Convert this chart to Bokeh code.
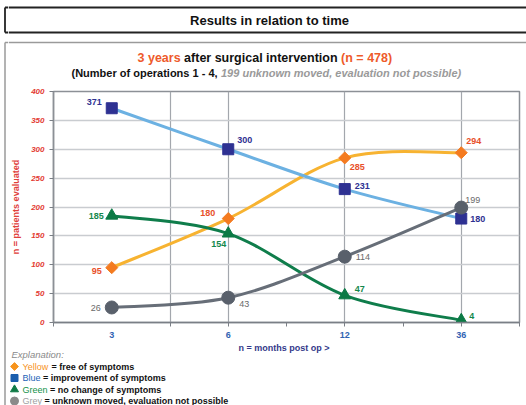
import numpy as np
from bokeh.plotting import figure
from bokeh.layouts import row, column
from bokeh.models import Range1d, FixedTicker
from bokeh.core.properties import value
from bokeh.embed import file_html
from bokeh.resources import INLINE

# ---- data ----
months = ["3", "6", "12", "36"]
yellow_free = [95, 180, 285, 294]
blue_improved = [371, 300, 231, 180]
green_nochange = [185, 154, 47, 4]
grey_unknown = [26, 43, 114, 199]
y_ticks = [0, 50, 100, 150, 200, 250, 300, 350, 400]

FONT = "Liberation Sans"
PAGE_W, PAGE_H = 526, 405
STRIP_W = 8
MAIN_W = PAGE_W - STRIP_W
HEAD_H, CHART_H = 83, 257
LEG_H = PAGE_H - HEAD_H - CHART_H
DARK, GREYBOX = "#222222", "#9a9a9a"


def no_align(f):
    try:
        f.frame_align = False
    except Exception:
        pass
    return f


def canvas_fig(x0, x1, y0, y1):
    """Figure whose frame fills the whole canvas, with data units = page pixels."""
    f = figure(width=int(x1 - x0), height=int(y1 - y0), output_backend="svg",
               toolbar_location=None, x_range=Range1d(x0, x1), y_range=Range1d(y1, y0),
               x_axis_type=None, y_axis_type=None, min_border=0)
    f.outline_line_color = None
    f.background_fill_color = "white"
    f.border_fill_color = "white"
    return no_align(f)


def txt(f, x, y, s, size, color, style="bold", align="left", font=FONT):
    f.text(x=[x], y=[y], text=[s], text_font=value(font), text_font_size=value(size),
           text_font_style=style, text_color=color, text_align=align,
           text_baseline="middle")


# ---------- left strip (left edges of the two frames) ----------
strip = canvas_fig(0, STRIP_W, 0, PAGE_H)
strip.segment(x0=[4.5, 4.5, 4.5, 4.5, 4.5], y0=[7, 32, 7, 42, 42],
              x1=[8, 8, 4.5, 8, 4.5], y1=[7, 32, 32, 42, PAGE_H],
              line_color=[DARK, DARK, DARK, GREYBOX, GREYBOX],
              line_width=[1.8, 1.8, 1.8, 1.5, 1.5])

# ---------- header ----------
head = canvas_fig(STRIP_W, PAGE_W, 0, HEAD_H)
head.segment(x0=[STRIP_W] * 3, y0=[7, 32, 42], x1=[PAGE_W] * 3, y1=[7, 32, 42],
             line_color=[DARK, DARK, GREYBOX], line_width=[1.8, 1.8, 1.5])
txt(head, 269, 19.5, "Results in relation to time", "13px", "#111111", align="center")
txt(head, 137, 57, "3 years", "12.5px", "#ee5a2b")
txt(head, 183.6, 57, "after surgical intervention", "12.5px", "#111111")
txt(head, 340.6, 57, "(n = 478)", "12.5px", "#ee5a2b")
txt(head, 71, 72, "(Number of operations 1 - 4,", "11px", "#111111")
txt(head, 220.5, 72, "199 unknown moved, evaluation not possible)", "11px", "#9a9a9a",
    style="bold italic")

# ---------- chart ----------
p = figure(width=MAIN_W, height=CHART_H, output_backend="svg", toolbar_location=None,
           x_range=Range1d(-0.5, 3.5), y_range=Range1d(0, 400),
           min_border_left=41, min_border_right=7, min_border_top=8,
           min_border_bottom=18)
no_align(p)
p.background_fill_color = "white"
p.border_fill_color = "white"
p.outline_line_color = "#8c9096"
p.outline_line_width = 1.5

p.ygrid.ticker = FixedTicker(ticks=y_ticks)
p.ygrid.grid_line_color = "#c9ccd0"
p.ygrid.grid_line_width = 1.5
p.xgrid.ticker = FixedTicker(ticks=[0.5, 1, 2, 3])
p.xgrid.grid_line_color = "#a3a7ad"
p.xgrid.grid_line_width = 1.2

xa = p.xaxis[0]
xa.ticker = FixedTicker(ticks=list(range(len(months))),
                        minor_ticks=[-0.5, 0.5, 1, 1.5, 2, 2.5, 3, 3.5])
xa.major_label_overrides = {i: m for i, m in enumerate(months)}
xa.major_tick_out = 0
xa.major_tick_in = 0
xa.minor_tick_out = 4
xa.minor_tick_in = 0
xa.minor_tick_line_color = "#7a7f86"
xa.axis_line_color = "#7a7f86"
xa.axis_line_width = 1.5
xa.major_label_text_font = FONT
xa.major_label_text_font_size = "9px"
xa.major_label_text_font_style = "bold"
xa.major_label_text_color = "#2f63b2"
xa.major_label_standoff = 5

ya = p.yaxis[0]
ya.ticker = FixedTicker(ticks=y_ticks)
ya.major_tick_out = 4
ya.major_tick_in = 0
ya.minor_tick_out = 0
ya.minor_tick_in = 0
ya.major_tick_line_color = "#7a7f86"
ya.axis_line_color = "#8c9096"
ya.axis_line_width = 1.5
ya.major_label_text_font = FONT
ya.major_label_text_font_size = "8px"
ya.major_label_text_font_style = "bold italic"
ya.major_label_text_color = "#e33b33"
ya.major_label_standoff = 5
ya.axis_label = "n = patients evaluated"
ya.axis_label_text_font = FONT
ya.axis_label_text_font_size = "9px"
ya.axis_label_text_font_style = "bold"
ya.axis_label_text_color = "#e0403a"
ya.axis_label_standoff = 7


def smooth_segments(vals):
    """Cubic bezier control points (Catmull-Rom style) for a smoothed line."""
    x = np.arange(len(vals), dtype=float)
    y = np.asarray(vals, dtype=float)
    xp = np.concatenate([[x[0]], x, [x[-1]]])
    yp = np.concatenate([[y[0]], y, [y[-1]]])
    seg = dict(x0=[], y0=[], x1=[], y1=[], cx0=[], cy0=[], cx1=[], cy1=[])
    for i in range(len(vals) - 1):
        seg["x0"].append(xp[i + 1]); seg["y0"].append(yp[i + 1])
        seg["x1"].append(xp[i + 2]); seg["y1"].append(yp[i + 2])
        seg["cx0"].append(xp[i + 1] + (xp[i + 2] - xp[i]) / 6)
        seg["cy0"].append(yp[i + 1] + (yp[i + 2] - yp[i]) / 6)
        seg["cx1"].append(xp[i + 2] - (xp[i + 3] - xp[i + 1]) / 6)
        seg["cy1"].append(yp[i + 2] - (yp[i + 3] - yp[i + 1]) / 6)
    return seg


xs = list(range(len(months)))
series = [
    (yellow_free, "#f7b331", "square", "#f47b20", 8.5, np.pi / 4, "#e8502a", "bold",
     [-10, -13, 5, 5], [3, -6, 9, -12], ["right", "right", "left", "left"]),
    (blue_improved, "#6cb1e2", "square", "#2e3192", 11, 0, "#2e3192", "bold",
     [-10, 9, 10, 9], [-6, -9, -3, 0], ["right", "left", "left", "left"]),
    (green_nochange, "#0f7d4b", "triangle", "#0b7a45", 12, 0, "#13874c", "bold",
     [-8, -2, 10, 8], [0, 10, -6, -4], ["right", "right", "left", "left"]),
    (grey_unknown, "#676e78", "circle", "#59606b", 13, 0, "#6a6a6a", "normal",
     [-11, 11, 11, 4], [1, 6, 0, -8], ["right", "left", "left", "left"]),
]
for vals, lc, mk, mc, ms, ang, tc, tw, dx, dy, al in series:
    p.bezier(line_color=lc, line_width=3, **smooth_segments(vals))
    p.scatter(xs, vals, marker=mk, size=ms, angle=ang, fill_color=mc, line_color=mc)
    p.text(x=xs, y=vals, text=[str(v) for v in vals], x_offset=dx, y_offset=dy,
           text_align=al, text_baseline="middle", text_color=tc,
           text_font=value(FONT), text_font_size=value("9px"), text_font_style=tw)

# ---------- x-axis title and explanation ----------
leg = canvas_fig(STRIP_W, PAGE_W, HEAD_H + CHART_H, PAGE_H)
txt(leg, 283.5, 347, "n = months post op >", "9px", "#34398a", align="center")
txt(leg, 11, 354, "Explanation:", "9.5px", "#8a8a8a", style="italic")
legend_rows = [
    ("square", np.pi / 4, 5.5, "#f7941d", "Yellow", "#f7941d", "= free of symptoms", 51),
    ("square", 0, 7, "#1b5ead", "Blue", "#1b63b7", "= improvement of symptoms", 42.5),
    ("triangle", 0, 8, "#0e7a45", "Green", "#13924a", "= no change of symptoms", 49.5),
    ("circle", 0, 8, "#8a8a8a", "Grey", "#a0a0a0", "= unknown moved, evaluation not possible", 44),
]
for k, (mk, ang, ms, mc, word, wc, rest, rx) in enumerate(legend_rows):
    yy = 366 + 11.5 * k
    leg.scatter([14], [yy], marker=mk, angle=ang, size=ms, fill_color=mc, line_color=mc)
    txt(leg, 22, yy, word, "9px", wc, style="normal")
    txt(leg, rx, yy, rest, "9px", "#111111")

layout = row(strip, column(head, p, leg))
open("out.html", "w").write(file_html(layout, INLINE))
